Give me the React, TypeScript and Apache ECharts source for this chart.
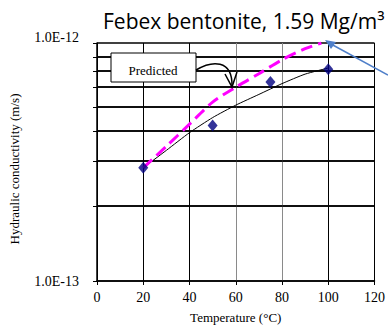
import React, { useEffect, useRef } from "react";
import * as echarts from "echarts";

// Measured hydraulic conductivity (m/s) vs temperature (°C)
const measuredTemp = [20, 50, 75, 100];
const measuredK = [2.99e-13, 4.5e-13, 6.86e-13, 7.76e-13];

// Fitted (black) curve
const fitTemp = [20, 30, 40, 50, 60, 70, 80, 90, 100];
const fitK = [2.99e-13, 3.54e-13, 4.2e-13, 4.86e-13, 5.48e-13, 6.08e-13, 6.75e-13, 7.4e-13, 7.85e-13];

// Predicted (magenta dashed) curve
const predTemp = [20, 30, 40, 50, 60, 70, 80, 90, 97];
const predK = [2.99e-13, 3.68e-13, 4.56e-13, 5.64e-13, 6.52e-13, 7.43e-13, 8.5e-13, 9.46e-13, 1.0e-12];

// Intermediate horizontal gridlines as drawn in the source chart
const hGridK = [8.735e-13, 7.63e-13, 6.54e-13, 5.39e-13, 4.26e-13, 3.19e-13, 2.064e-13];

// Axis settings
const xMin = 0;
const xMax = 120;
const xInterval = 20;
const yMin = 1e-13;
const yMax = 1e-12;
const yLabelValues = [yMin, yMax];

const SERIF = "'Liberation Serif', 'Times New Roman', serif";

export default function App() {
  const ref = useRef<HTMLDivElement>(null);

  useEffect(() => {
    if (!ref.current) return;
    const chart = echarts.init(ref.current, undefined, { renderer: "svg" });

    const fmt = (v: number) => v.toExponential(1).toUpperCase();

    chart.setOption({
      animation: false,
      backgroundColor: "#ffffff",
      title: {
        text: "Febex bentonite, 1.59 Mg/m³",
        left: 98,
        top: 5,
        textStyle: {
          fontFamily: "'Open Sans', sans-serif",
          fontSize: 21,
          fontWeight: "normal",
          color: "#000",
        },
      },
      grid: { left: 97, right: 9, top: 43, bottom: 48, containLabel: false },
      xAxis: {
        type: "value",
        min: xMin,
        max: xMax,
        interval: xInterval,
        axisLine: { lineStyle: { color: "#000", width: 1.5 } },
        axisTick: { show: true, length: 4, lineStyle: { color: "#000", width: 1 } },
        splitLine: {
          show: true,
          lineStyle: {
            color: ["#000", "#000", "#000", "#8a8a8a", "#8a8a8a", "#000", "#000"],
            width: 1,
          },
        },
        axisLabel: { fontFamily: SERIF, fontSize: 14, color: "#000", margin: 9 },
        name: "Temperature (°C)",
        nameLocation: "middle",
        nameGap: 30,
        nameTextStyle: { fontFamily: SERIF, fontSize: 13, color: "#000" },
      },
      yAxis: {
        type: "log",
        logBase: 10,
        min: yMin,
        max: yMax,
        axisLine: { show: true, lineStyle: { color: "#000", width: 1.5 } },
        axisTick: {
          show: true,
          length: 4,
          customValues: [yMin, ...hGridK, yMax],
          lineStyle: { color: "#000", width: 1 },
        },
        splitLine: { show: true, lineStyle: { color: "#000", width: 1.5 } },
        axisLabel: {
          margin: 18,
          customValues: yLabelValues,
          formatter: (v: number) => (v > 5e-13 ? `{t|${fmt(v)}}` : `{b|${fmt(v)}}`),
          rich: {
            t: { fontFamily: SERIF, fontSize: 14, color: "#000", padding: [0, 0, 12, 0] },
            b: { fontFamily: SERIF, fontSize: 14, color: "#000", padding: [0, 0, 0, 0] },
          },
        },
        name: "Hydraulic conductivity (m/s)",
        nameLocation: "middle",
        nameGap: 76,
        nameTextStyle: { fontFamily: SERIF, fontSize: 13, color: "#000", padding: [0, 14, 0, 0] },
      },
      series: [
        {
          type: "line",
          name: "Fit",
          data: fitTemp.map((t, i) => [t, fitK[i]]),
          showSymbol: false,
          symbol: "none",
          lineStyle: { color: "#000", width: 1 },
          smooth: 0.2,
          z: 2,
          silent: true,
          markLine: {
            z: 1,
            silent: true,
            symbol: ["none", "none"],
            label: { show: false },
            lineStyle: { color: "#000", width: 1.5, type: "solid" },
            data: hGridK.map((v) => [{ coord: [xMin, v] }, { coord: [xMax, v] }]),
          },
        },
        {
          type: "line",
          name: "Predicted",
          data: predTemp.map((t, i) => [t, predK[i]]),
          showSymbol: false,
          symbol: "none",
          smooth: 0.3,
          lineStyle: { color: "#ff00ff", width: 3, type: [12, 6] },
          z: 3,
        },
        {
          type: "scatter",
          name: "Measured",
          data: measuredTemp.map((t, i) => [t, measuredK[i]]),
          symbol: "diamond",
          symbolSize: [10, 12],
          itemStyle: { color: "#000080" },
          z: 4,
        },
      ],
      graphic: [
        {
          type: "rect",
          shape: { x: 111, y: 53, width: 85, height: 29 },
          style: { fill: "#fff", stroke: "#000", lineWidth: 1 },
          z: 100,
        },
        {
          type: "text",
          x: 153,
          y: 70,
          style: {
            text: "Predicted",
            fontFamily: SERIF,
            fontSize: 13,
            fill: "#000",
            textAlign: "center",
            textVerticalAlign: "middle",
          },
          z: 101,
        },
        {
          type: "bezierCurve",
          shape: { x1: 196, y1: 70, cpx1: 211, cpy1: 61, cpx2: 233, cpy2: 58, x2: 232, y2: 87 },
          style: { stroke: "#000", lineWidth: 1.5, fill: "none" },
          z: 101,
        },
        {
          type: "polyline",
          shape: { points: [[225, 74], [232, 87], [237, 72]] },
          style: { stroke: "#000", lineWidth: 1.5, fill: "none" },
          z: 101,
        },
        {
          type: "line",
          shape: { x1: 388, y1: 75, x2: 330, y2: 43.5 },
          style: { stroke: "#4f7fc9", lineWidth: 1.5 },
          z: 101,
        },
        {
          type: "polygon",
          shape: { points: [[325, 40], [336, 42], [331, 49]] },
          style: { fill: "#4f7fc9" },
          z: 101,
        },
      ],
    });

    return () => chart.dispose();
  }, []);

  return (
    <div
      ref={ref}
      style={{ position: "fixed", left: 0, top: 0, width: 388, height: 329, background: "#fff" }}
    />
  );
}
